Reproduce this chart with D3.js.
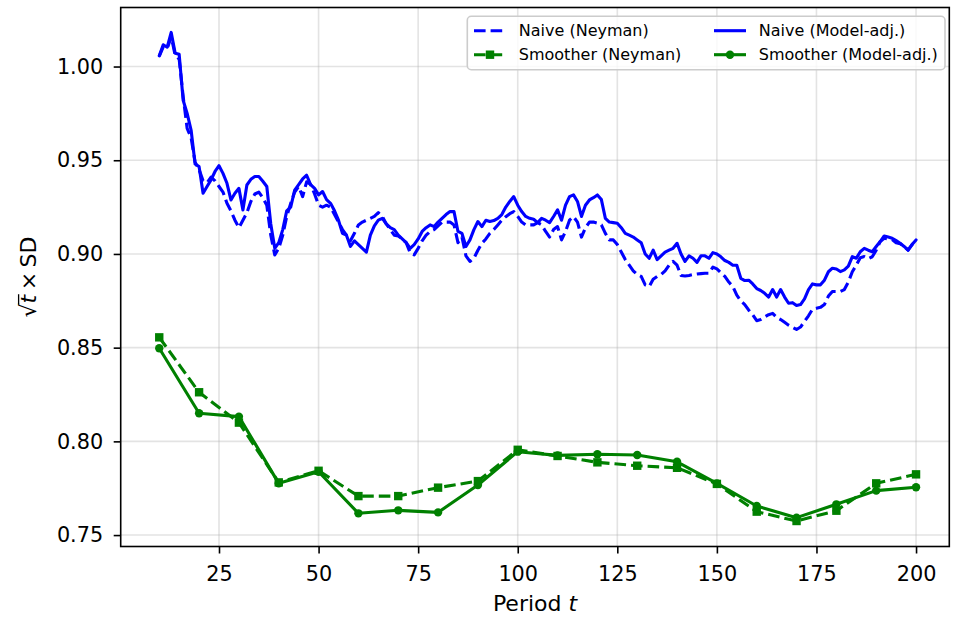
<!DOCTYPE html>
<html>
<head>
<meta charset="utf-8">
<script src="https://cdn.jsdelivr.net/npm/d3@7"></script>
<style>
  html, body { margin: 0; padding: 0; background: #fff; }
  svg { display: block; font-family: "DejaVu Sans", sans-serif; }
</style>
</head>
<body>
<svg id="chart" width="953" height="620"></svg>
<script>
// ---- data ---------------------------------------------------------------
// Naive estimators are reported every period from t = 10 to t = 200.
const naiveStart = 10;
const naiveEnd = 200;

// Naive (Neyman) variance, sqrt(t) * SD
const naiveNeyman = [
  1.0055, 1.0105, 1.0095, 1.016, 1.006, 1.004, 0.984, 0.967, 0.962, 0.949,
  0.945, 0.939, 0.938, 0.941, 0.939, 0.936, 0.933, 0.927, 0.923, 0.918,
  0.914, 0.918, 0.922, 0.928, 0.932, 0.933, 0.930, 0.926, 0.910, 0.8995,
  0.903, 0.910, 0.920, 0.927, 0.933, 0.936, 0.9306, 0.9385, 0.937, 0.932,
  0.926, 0.925, 0.926, 0.925, 0.921, 0.917, 0.913, 0.910, 0.907, 0.911,
  0.9155, 0.917, 0.918, 0.919, 0.920, 0.922, 0.920, 0.916, 0.913, 0.910,
  0.9096, 0.908, 0.906, 0.9005, 0.8995, 0.903, 0.907, 0.910, 0.912, 0.913,
  0.915, 0.917, 0.917, 0.917, 0.9155, 0.906, 0.909, 0.899, 0.896, 0.8977,
  0.902, 0.9057, 0.908, 0.911, 0.913, 0.9155, 0.918, 0.9199, 0.9215, 0.9226,
  0.920, 0.917, 0.9155, 0.9155, 0.9155, 0.9167, 0.9155, 0.912, 0.909, 0.913,
  0.9146, 0.9075, 0.912, 0.918, 0.9199, 0.917, 0.909, 0.914, 0.917, 0.917,
  0.9164, 0.9155, 0.911, 0.9075, 0.9075, 0.905, 0.901, 0.897, 0.894, 0.891,
  0.889, 0.888, 0.8835, 0.8826, 0.8865, 0.888, 0.889, 0.891, 0.894, 0.896,
  0.894, 0.8885, 0.8882, 0.8885, 0.889, 0.8893, 0.8895, 0.8897, 0.8897, 0.893,
  0.892, 0.890, 0.888, 0.885, 0.8826, 0.878, 0.875, 0.873, 0.870, 0.8675,
  0.8644, 0.865, 0.8664, 0.8676, 0.8683, 0.8662, 0.865, 0.8635, 0.862, 0.8608,
  0.8597, 0.861, 0.864, 0.867, 0.8705, 0.871, 0.8715, 0.873, 0.8775, 0.880,
  0.880, 0.880, 0.881, 0.885, 0.8905, 0.894, 0.898, 0.8986, 0.8975, 0.8985,
  0.902, 0.9066, 0.9084, 0.908, 0.9077, 0.906, 0.9055, 0.904, 0.902, 0.905,
  0.9066
];

// Naive (model-adjusted) variance, sqrt(t) * SD
const naiveModel = [
  1.0057, 1.0116, 1.0103, 1.0182, 1.0071, 1.0065, 0.982, 0.975, 0.966, 0.948,
  0.9466, 0.9324, 0.936, 0.9395, 0.944, 0.9471, 0.943, 0.9377, 0.9288, 0.9324,
  0.935, 0.9235, 0.9368, 0.9398, 0.9413, 0.9413, 0.9388, 0.936, 0.916, 0.903,
  0.906, 0.913, 0.923, 0.925, 0.934, 0.937, 0.940, 0.942, 0.937, 0.935,
  0.9315, 0.9333, 0.929, 0.927, 0.923, 0.918, 0.911, 0.910, 0.904, 0.907,
  0.905, 0.903, 0.901, 0.910, 0.915, 0.918, 0.919, 0.916, 0.914, 0.913,
  0.910, 0.908, 0.906, 0.903, 0.905, 0.908, 0.912, 0.914, 0.9155, 0.9146,
  0.917, 0.919, 0.921, 0.9226, 0.9226, 0.912, 0.911, 0.904, 0.9075, 0.913,
  0.9173, 0.9146, 0.918, 0.9173, 0.9178, 0.919, 0.921, 0.925, 0.928, 0.9306,
  0.926, 0.9226, 0.920, 0.919, 0.9185, 0.9167, 0.919, 0.918, 0.9167, 0.920,
  0.9235, 0.918, 0.926, 0.9306, 0.9315, 0.928, 0.920, 0.926, 0.9288, 0.930,
  0.9315, 0.929, 0.919, 0.917, 0.9167, 0.9164, 0.914, 0.911, 0.910, 0.909,
  0.9075, 0.906, 0.900, 0.8977, 0.902, 0.897, 0.899, 0.901, 0.902, 0.903,
  0.9057, 0.900, 0.896, 0.899, 0.8977, 0.8955, 0.899, 0.899, 0.8977, 0.9007,
  0.900, 0.8985, 0.8965, 0.8955, 0.894, 0.894, 0.887, 0.8858, 0.886, 0.884,
  0.8815, 0.8805, 0.879, 0.877, 0.881, 0.877, 0.881, 0.877, 0.8737, 0.874,
  0.8725, 0.873, 0.876, 0.881, 0.884, 0.8835, 0.8835, 0.886, 0.8905, 0.8924,
  0.892, 0.8906, 0.8915, 0.8935, 0.8986, 0.8977, 0.9012, 0.903, 0.902, 0.9012,
  0.904, 0.9066, 0.9096, 0.909, 0.9084, 0.9071, 0.9057, 0.904, 0.902, 0.905,
  0.9075
];

// Smoother estimators, reported every 10 periods
const smoothPeriods = [10, 20, 30, 40, 50, 60, 70, 80, 90, 100,
                       110, 120, 130, 140, 150, 160, 170, 180, 190, 200];
const smoothNeyman = [0.8555, 0.8262, 0.8100, 0.7781, 0.7843, 0.7708, 0.7708, 0.7753, 0.7788, 0.7955,
                      0.7922, 0.7888, 0.7870, 0.7859, 0.7773, 0.7625, 0.7575, 0.7630, 0.7776, 0.7824];
const smoothModel  = [0.8497, 0.8150, 0.8132, 0.7776, 0.7838, 0.7616, 0.7632, 0.7621, 0.7767, 0.7945,
                      0.7925, 0.7931, 0.7927, 0.7891, 0.7776, 0.7655, 0.7593, 0.7664, 0.7737, 0.7755];

const xTicks = [25, 50, 75, 100, 125, 150, 175, 200];
const yTicks = [0.75, 0.80, 0.85, 0.90, 0.95, 1.00];

const legendLabels = ["Naive (Neyman)", "Smoother (Neyman)", "Naive (Model-adj.)", "Smoother (Model-adj.)"];

// ---- layout -------------------------------------------------------------
const plot = { left: 120.7, right: 949.3, top: 7.5, bottom: 546.5 };
const BLUE = "#0000ff", GREEN = "#008000";
const LW = 3.1;
const DASH = "11.6,5";

const svg = d3.select("#chart");

const x = d3.scaleLinear().domain([0.32, 208.35]).range([plot.left, plot.right]);
const y = d3.scaleLinear().domain([0.7439, 1.0315]).range([plot.bottom, plot.top]);

// grid
const grid = svg.append("g").attr("class", "grid")
  .attr("stroke", "#b0b0b0").attr("stroke-opacity", 0.35).attr("stroke-width", 1.6);
grid.selectAll("line.gx").data(xTicks).join("line")
  .attr("x1", d => x(d)).attr("x2", d => x(d))
  .attr("y1", plot.top).attr("y2", plot.bottom);
grid.selectAll("line.gy").data(yTicks).join("line")
  .attr("x1", plot.left).attr("x2", plot.right)
  .attr("y1", d => y(d)).attr("y2", d => y(d));

// series
const naivePeriods = d3.range(naiveStart, naiveEnd + 1);
const line = d3.line().x(d => x(d[0])).y(d => y(d[1]));

const series = [
  { name: legendLabels[0], t: naivePeriods, v: naiveNeyman, color: BLUE, dash: DASH, marker: null },
  { name: legendLabels[1], t: smoothPeriods, v: smoothNeyman, color: GREEN, dash: DASH, marker: "square" },
  { name: legendLabels[2], t: naivePeriods, v: naiveModel, color: BLUE, dash: null, marker: null },
  { name: legendLabels[3], t: smoothPeriods, v: smoothModel, color: GREEN, dash: null, marker: "circle" }
];

const MS = 8.4; // marker size in px

function drawMarker(g, kind, cx, cy, color) {
  if (kind === "square") {
    g.append("rect").attr("x", cx - MS / 2).attr("y", cy - MS / 2)
      .attr("width", MS).attr("height", MS).attr("fill", color);
  } else if (kind === "circle") {
    g.append("circle").attr("cx", cx).attr("cy", cy).attr("r", MS / 2).attr("fill", color);
  }
}

const dataLayer = svg.append("g").attr("class", "data");
series.forEach(s => {
  const pts = s.t.map((t, i) => [t, s.v[i]]);
  dataLayer.append("path")
    .datum(pts)
    .attr("d", line)
    .attr("fill", "none")
    .attr("stroke", s.color)
    .attr("stroke-width", LW)
    .attr("stroke-linejoin", "round")
    .attr("stroke-linecap", s.dash ? "butt" : "round")
    .attr("stroke-dasharray", s.dash);
  if (s.marker) {
    const mg = dataLayer.append("g");
    pts.forEach(p => drawMarker(mg, s.marker, x(p[0]), y(p[1]), s.color));
  }
});

// frame
svg.append("rect")
  .attr("x", plot.left).attr("y", plot.top)
  .attr("width", plot.right - plot.left).attr("height", plot.bottom - plot.top)
  .attr("fill", "none").attr("stroke", "#000").attr("stroke-width", 1.6);

// axes
const TICK_FS = 20.8;
const xAxis = svg.append("g")
  .attr("transform", `translate(0,${plot.bottom})`)
  .call(d3.axisBottom(x).tickValues(xTicks).tickSize(7).tickPadding(12.5).tickFormat(d3.format("d")));
const yAxis = svg.append("g")
  .attr("transform", `translate(${plot.left},0)`)
  .call(d3.axisLeft(y).tickValues(yTicks).tickSize(7).tickPadding(10.5).tickFormat(d3.format(".2f")));

[xAxis, yAxis].forEach(ax => {
  ax.select(".domain").remove();
  ax.selectAll(".tick line").attr("stroke", "#000").attr("stroke-width", 1.6);
  ax.selectAll(".tick text")
    .attr("fill", "#000")
    .style("font-family", "DejaVu Sans")
    .style("font-size", TICK_FS + "px");
});

// axis titles
const LABEL_FS = 22;
const xt = svg.append("text")
  .attr("x", (plot.left + plot.right) / 2)
  .attr("y", 611)
  .attr("text-anchor", "middle")
  .style("font-size", LABEL_FS + "px")
  .attr("fill", "#000");
xt.append("tspan").text("Period ");
xt.append("tspan").attr("font-style", "italic").text("t");

// y title: sqrt(t) x SD, rotated
const yg = svg.append("g")
  .attr("transform", `translate(36,${(plot.top + plot.bottom) / 2}) rotate(-90)`);
const yt = yg.append("text")
  .attr("x", 0).attr("y", 0)
  .style("font-size", LABEL_FS + "px")
  .attr("fill", "#000");
yt.append("tspan").text("\u221A");
yt.append("tspan").attr("font-style", "italic").text("t");
yt.append("tspan").text("\u2009\u00D7\u2009SD");
const ytw = yt.node().getComputedTextLength();
yt.attr("x", -ytw / 2);
{
  const rad = yt.node().getExtentOfChar(0);
  const tEx = yt.node().getExtentOfChar(1);
  yg.append("line")
    .attr("x1", rad.x + rad.width - 1.2).attr("x2", tEx.x + tEx.width + 0.5)
    .attr("y1", rad.y + 2.6).attr("y2", rad.y + 2.6)
    .attr("stroke", "#000").attr("stroke-width", 1.3);
}

// legend
const LEG_FS = 16;
const leg = svg.append("g").attr("class", "legend");
leg.append("rect")
  .attr("x", 467.3).attr("y", 16.3)
  .attr("width", 945 - 467.3).attr("height", 69.7 - 16.3)
  .attr("rx", 4).attr("ry", 4)
  .attr("fill", "#fff").attr("fill-opacity", 0.8)
  .attr("stroke", "#cccccc").attr("stroke-width", 1.6);

const colX = [474, 714];
const rowY = [30.7, 54.7];
const handleLen = 32;
series.forEach((s, i) => {
  const col = Math.floor(i / 2), row = i % 2;
  const hx = colX[col], hy = rowY[row];
  const g = leg.append("g");
  g.append("line")
    .attr("x1", hx).attr("x2", hx + handleLen)
    .attr("y1", hy).attr("y2", hy)
    .attr("stroke", s.color).attr("stroke-width", LW)
    .attr("stroke-dasharray", s.dash);
  if (s.marker) drawMarker(g, s.marker, hx + handleLen / 2, hy, s.color);
  g.append("text")
    .attr("x", hx + handleLen + 12.8)
    .attr("y", hy + 5.7)
    .style("font-size", LEG_FS + "px")
    .attr("fill", "#000")
    .text(s.name);
});
</script>
</body>
</html>
